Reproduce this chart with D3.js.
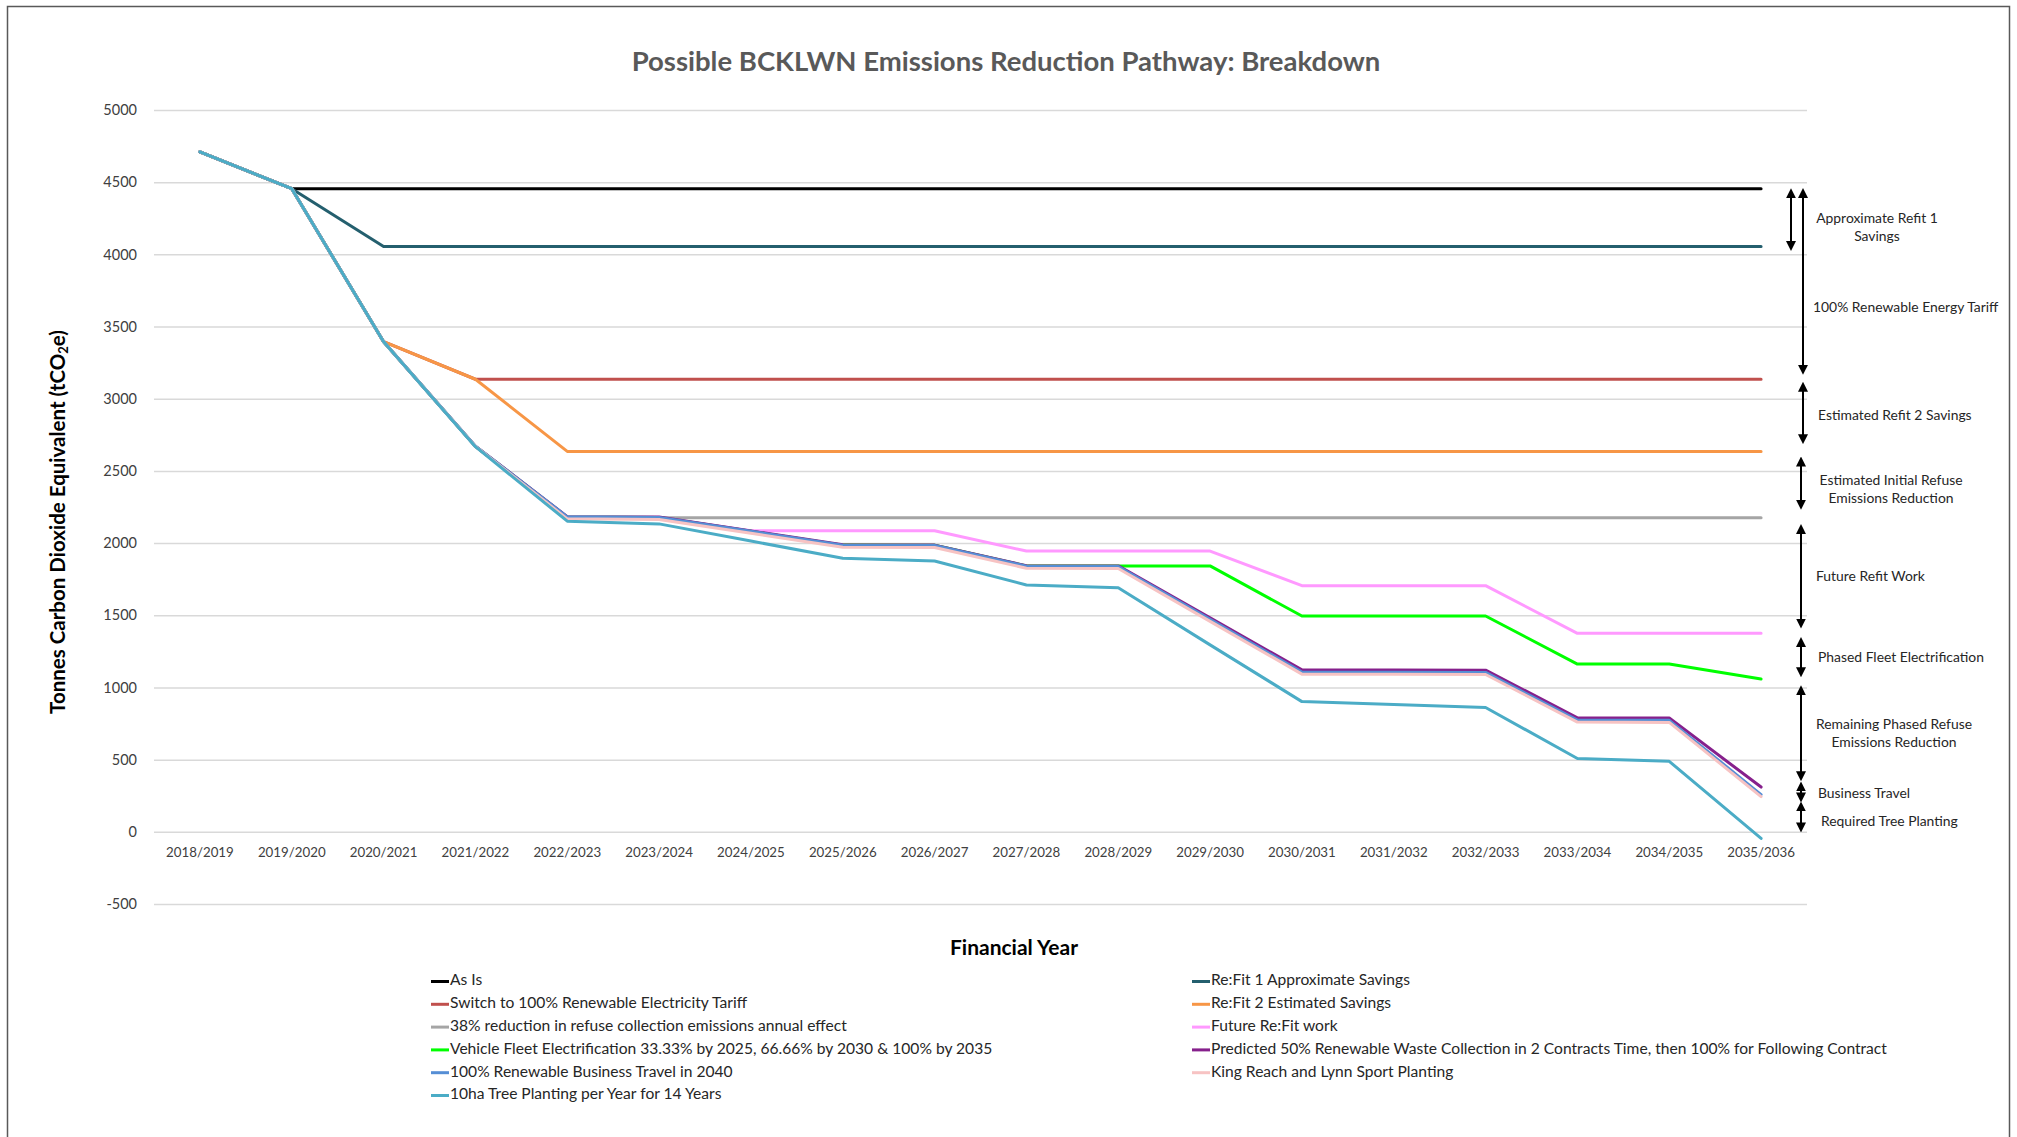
<!DOCTYPE html>
<html>
<head>
<meta charset="utf-8">
<script src="https://cdn.jsdelivr.net/npm/d3@7/dist/d3.min.js"></script>
<style>
  body { margin: 0; background: #fff; }
  svg { display: block; font-family: Lato, "Open Sans", sans-serif; }
</style>
</head>
<body>
<div class="chart"></div>
<script>
// --- Data ---
const years = ["2018/2019", "2019/2020", "2020/2021", "2021/2022", "2022/2023", "2023/2024",
  "2024/2025", "2025/2026", "2026/2027", "2027/2028", "2028/2029", "2029/2030",
  "2030/2031", "2031/2032", "2032/2033", "2033/2034", "2034/2035", "2035/2036"];

const yTicks = [5000, 4500, 4000, 3500, 3000, 2500, 2000, 1500, 1000, 500, 0, -500];

const asIs        = [4710, 4455, 4455, 4455, 4455, 4455, 4455, 4455, 4455, 4455, 4455, 4455, 4455, 4455, 4455, 4455, 4455, 4455];
const refit1      = [4710, 4455, 4055, 4055, 4055, 4055, 4055, 4055, 4055, 4055, 4055, 4055, 4055, 4055, 4055, 4055, 4055, 4055];
const tariff      = [4710, 4455, 3395, 3135, 3135, 3135, 3135, 3135, 3135, 3135, 3135, 3135, 3135, 3135, 3135, 3135, 3135, 3135];
const refit2      = [4710, 4455, 3395, 3135, 2635, 2635, 2635, 2635, 2635, 2635, 2635, 2635, 2635, 2635, 2635, 2635, 2635, 2635];
const refuse38    = [4710, 4455, 3395, 2670, 2175, 2175, 2175, 2175, 2175, 2175, 2175, 2175, 2175, 2175, 2175, 2175, 2175, 2175];
const futureRefit = [4710, 4455, 3395, 2670, 2180, 2178, 2085, 2085, 2085, 1945, 1945, 1945, 1705, 1705, 1705, 1375, 1375, 1375];
const fleet       = [4710, 4455, 3395, 2670, 2180, 2178, 2082, 1986, 1985, 1842, 1842, 1842, 1495, 1495, 1495, 1162, 1162, 1058];
const waste50     = [4710, 4455, 3395, 2671, 2183, 2180, 2084, 1988, 1986, 1843, 1842, 1482, 1122, 1121, 1120, 790, 789, 310];
const travel      = [4710, 4455, 3395, 2671, 2182, 2178, 2082, 1985, 1983, 1840, 1838, 1472, 1106, 1105, 1104, 774, 772, 258];
const kingReach   = [4710, 4455, 3395, 2670, 2168, 2163, 2068, 1971, 1969, 1826, 1824, 1458, 1092, 1091, 1090, 760, 758, 244];
const trees       = [4710, 4455, 3395, 2668, 2152, 2133, 2014, 1895, 1876, 1710, 1690, 1295, 902, 882, 861, 508, 488, -46];

// draw order = Excel series order (last on top)
const series = [
  { name: "As Is", values: asIs, color: "#000000" },
  { name: "Re:Fit 1 Approximate Savings", values: refit1, color: "#245F6E" },
  { name: "Switch to 100% Renewable Electricity Tariff", values: tariff, color: "#C0504D" },
  { name: "Re:Fit 2 Estimated Savings", values: refit2, color: "#F79646" },
  { name: "38% reduction in refuse collection emissions annual effect", values: refuse38, color: "#A5A5A5" },
  { name: "Future Re:Fit work", values: futureRefit, color: "#FF99FF" },
  { name: "Vehicle Fleet Electrification 33.33% by 2025, 66.66% by 2030 & 100% by 2035", values: fleet, color: "#00FF00" },
  { name: "Predicted 50% Renewable Waste Collection in 2 Contracts Time, then 100% for Following Contract", values: waste50, color: "#86208C" },
  { name: "100% Renewable Business Travel in 2040", values: travel, color: "#558ED5" },
  { name: "King Reach and Lynn Sport Planting", values: kingReach, color: "#F7C3C3" },
  { name: "10ha Tree Planting per Year for 14 Years", values: trees, color: "#4BACC6" }
];

// right-hand annotations: label lines and the value span of each arrow
const notes = [
  { lines: ["Approximate Refit 1", "Savings"], from: 4423, to: 4058 },
  { lines: ["100% Renewable Energy Tariff"], from: 4425, to: 3200 },
  { lines: ["Estimated Refit 2 Savings"], from: 3083, to: 2720 },
  { lines: ["Estimated Initial Refuse", "Emissions Reduction"], from: 2565, to: 2266 },
  { lines: ["Future Refit Work"], from: 2097, to: 1443 },
  { lines: ["Phased Fleet Electrification"], from: 1315, to: 1105 },
  { lines: ["Remaining Phased Refuse", "Emissions Reduction"], from: 980, to: 385 },
  { lines: ["Business Travel"], from: 314, to: 238 },
  { lines: ["Required Tree Planting"], from: 176, to: 30 }
];
// label placement [x, y of first line, anchor]
const notePos = [
  [1877, 219, "middle"], [1813, 308, "start"], [1818, 416, "start"], [1891, 481, "middle"],
  [1816, 577, "start"], [1818, 658, "start"], [1894, 725, "middle"], [1818, 794, "start"],
  [1821, 822, "start"]
];

const W = 2017, H = 1137;
const plot = { left: 154, right: 1807, top: 110, bottom: 904 };

const svg = d3.select(".chart").append("svg")
  .attr("width", W).attr("height", H);

svg.append("rect")
  .attr("x", 7.5).attr("y", 6.5)
  .attr("width", 2002).attr("height", 1150)
  .attr("fill", "#fff").attr("stroke", "#595959").attr("stroke-width", 1.5);

const x = d3.scaleBand().domain(years).range([plot.left, plot.right]);
const y = d3.scaleLinear().domain([-500, 5000]).range([plot.bottom, plot.top]);
const cx = d => x(d) + x.bandwidth() / 2;

// y axis + gridlines
const yAxis = svg.append("g")
  .attr("transform", `translate(${plot.left},0)`)
  .call(d3.axisLeft(y).tickValues(yTicks).tickFormat(d => String(d))
    .tickSize(-(plot.right - plot.left)).tickPadding(17));
yAxis.select(".domain").remove();
yAxis.selectAll(".tick line").attr("stroke", "#D9D9D9").attr("stroke-width", 1.5);
yAxis.selectAll(".tick text")
  .style("font-size", "14.5px").style("fill", "#404040").style("font-family", "Lato");

// x axis labels
const xAxis = svg.append("g")
  .attr("transform", `translate(0,${y(0)})`)
  .call(d3.axisBottom(x).tickSize(0).tickPadding(16));
xAxis.select(".domain").remove();
xAxis.selectAll(".tick text")
  .style("font-size", "13.3px").style("fill", "#404040").style("font-family", "Lato");

// lines
const line = d3.line()
  .x((d, i) => cx(years[i]))
  .y(d => y(d));

svg.append("g").selectAll("path")
  .data(series)
  .enter().append("path")
  .attr("d", d => line(d.values))
  .attr("fill", "none")
  .attr("stroke", d => d.color)
  .attr("stroke-width", 3)
  .attr("stroke-linejoin", "round")
  .attr("stroke-linecap", "round");

// title
svg.append("text")
  .attr("x", 1006).attr("y", 64)
  .attr("text-anchor", "middle").attr("dominant-baseline", "middle")
  .style("font-size", "27.5px").style("font-weight", "bold").style("fill", "#595959")
  .text("Possible BCKLWN Emissions Reduction Pathway: Breakdown");

// axis titles
const yt = svg.append("text")
  .attr("transform", "translate(60,522) rotate(-90)")
  .attr("text-anchor", "middle").attr("dominant-baseline", "middle")
  .style("font-size", "20.5px").style("font-weight", "bold").style("fill", "#000");
yt.append("tspan").text("Tonnes Carbon Dioxide Equivalent (tCO");
yt.append("tspan").attr("dy", 5).style("font-size", "13px").text("2");
yt.append("tspan").attr("dy", -5).text("e)");

svg.append("text")
  .attr("x", 1014).attr("y", 950)
  .attr("text-anchor", "middle").attr("dominant-baseline", "middle")
  .style("font-size", "21px").style("font-weight", "bold").style("fill", "#000")
  .text("Financial Year");

// annotation arrows
const defs = svg.append("defs");
["arrEnd", "arrStart"].forEach((id, k) => {
  defs.append("marker")
    .attr("id", id).attr("viewBox", "0 0 10 10")
    .attr("refX", 5).attr("refY", 5)
    .attr("markerWidth", 5).attr("markerHeight", 5)
    .attr("orient", k === 0 ? "auto" : "auto-start-reverse")
    .append("path").attr("d", "M0,0 L10,5 L0,10 z").attr("fill", "#000");
});

const ann = svg.append("g");
notes.forEach((n, i) => {
  const ax = i === 0 ? 1791 : (i < 3 ? 1803 : 1801);
  ann.append("line")
    .attr("x1", ax).attr("x2", ax)
    .attr("y1", y(n.from)).attr("y2", y(n.to))
    .attr("stroke", "#000").attr("stroke-width", 2)
    .attr("marker-start", "url(#arrStart)").attr("marker-end", "url(#arrEnd)");
  const [tx, ty, anchor] = notePos[i];
  n.lines.forEach((l, j) => {
    ann.append("text")
      .attr("x", tx).attr("y", ty + j * 18)
      .attr("text-anchor", anchor).attr("dominant-baseline", "middle")
      .style("font-size", "13.9px").style("fill", "#262626")
      .text(l);
  });
});

// legend (two columns, row-wise like Excel)
const legend = svg.append("g");
series.forEach((s, i) => {
  const col = i % 2, row = Math.floor(i / 2);
  const lx = col === 0 ? 431 : 1192;
  const ly = 981.5 + row * 22.8;
  legend.append("line")
    .attr("x1", lx).attr("x2", lx + 18).attr("y1", ly).attr("y2", ly)
    .attr("stroke", s.color).attr("stroke-width", 3);
  legend.append("text")
    .attr("x", lx + 19).attr("y", ly)
    .attr("dominant-baseline", "middle")
    .style("font-size", "15.6px").style("fill", "#262626")
    .text(s.name);
});
</script>
</body>
</html>
